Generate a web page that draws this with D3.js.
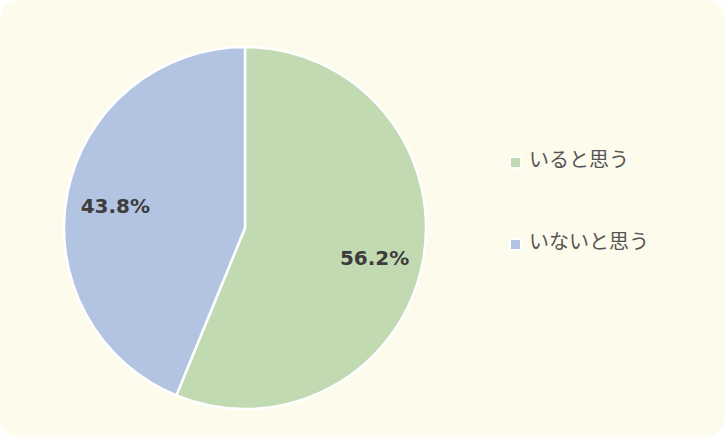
<!DOCTYPE html>
<html><head><meta charset="utf-8">
<script src="https://cdn.jsdelivr.net/npm/d3@7"></script>
<style>html,body{margin:0;padding:0;background:#fff;}</style>
</head><body>
<svg id="c" width="725" height="437"></svg>
<script>
const categories = ["いると思う", "いないと思う"];
const values = [56.2, 43.8];
const colors = ["#c2dab2", "#b2c4e2"];

const svg = d3.select("#c");
svg.append("rect").attr("x",0).attr("y",0).attr("width",725).attr("height",437)
  .attr("rx",20).attr("ry",20).attr("fill","#fdfbec");

const cx = 245, cy = 228, R = 181;
const pie = d3.pie().sort(null).value(d => d)(values);
const arc = d3.arc().innerRadius(0).outerRadius(R);
const labelArc = d3.arc().innerRadius(R*0.73).outerRadius(R*0.73);
const g = svg.append("g").attr("transform", `translate(${cx},${cy})`);
g.selectAll("path").data(pie).join("path")
  .attr("d", arc).attr("fill", (d,i) => colors[i])
  .attr("stroke", "#fff").attr("stroke-width", 2.5).attr("stroke-linejoin","round");
g.selectAll("text").data(pie).join("text")
  .attr("transform", d => `translate(${labelArc.centroid(d)})`)
  .attr("text-anchor","middle").attr("dy","0.55em")
  .attr("font-family","DejaVu Sans").attr("font-weight","bold").attr("font-size",20)
  .attr("fill","#3c3c3c")
  .text(d => d.data.toFixed(1) + "%");

const leg = svg.append("g").attr("transform","translate(510,162)");
const y = d3.scalePoint().domain(categories).range([0, 82]);
const item = leg.selectAll("g").data(categories).join("g")
  .attr("transform", d => `translate(0,${y(d)})`);
item.append("rect").attr("x",0).attr("y",-5).attr("width",11).attr("height",11)
  .attr("fill",(d,i)=>colors[i]).attr("stroke","#fff").attr("stroke-width",2);
item.append("text").attr("x",19).attr("y",-2).attr("dy","0.35em")
  .attr("font-family","Noto Sans CJK JP").attr("font-size",20).attr("fill","#555")
  .text(d => d);
</script>
</body></html>
